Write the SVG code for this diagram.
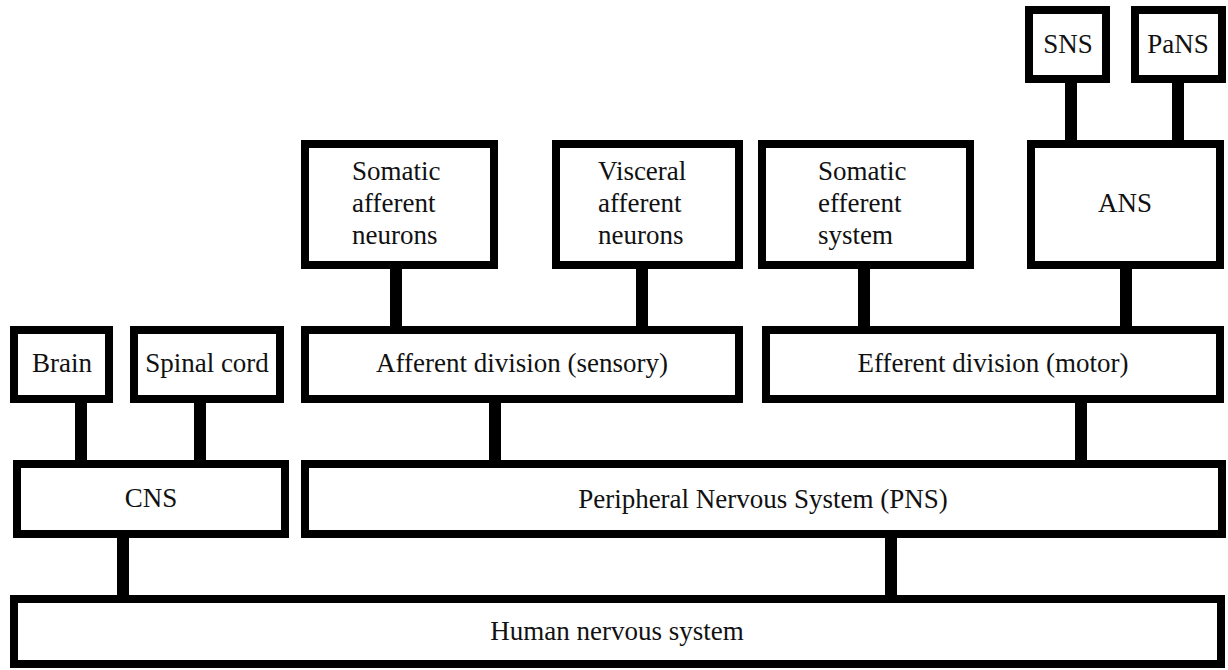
<svg xmlns="http://www.w3.org/2000/svg" width="1228" height="670" viewBox="0 0 1228 670">
<style>
.box{fill:#fff;stroke:#000;stroke-width:8}
.t{font-family:"Liberation Serif","Times New Roman",serif;font-size:27px;fill:#111}
.c{text-anchor:middle}
.link{stroke:#000;stroke-width:12;fill:none}
</style>
<rect width="1228" height="670" fill="#fff"/>
<g id="connectors">
<line class="link" x1="1071" y1="83" x2="1071" y2="140"/>
<line class="link" x1="1178" y1="83" x2="1178" y2="140"/>
<line class="link" x1="396" y1="269" x2="396" y2="326"/>
<line class="link" x1="642" y1="269" x2="642" y2="326"/>
<line class="link" x1="864" y1="269" x2="864" y2="326"/>
<line class="link" x1="1126" y1="269" x2="1126" y2="326"/>
<line class="link" x1="81" y1="403" x2="81" y2="460"/>
<line class="link" x1="200" y1="403" x2="200" y2="460"/>
<line class="link" x1="495" y1="403" x2="495" y2="460"/>
<line class="link" x1="1081" y1="403" x2="1081" y2="460"/>
<line class="link" x1="123" y1="538" x2="123" y2="595"/>
<line class="link" x1="891" y1="538" x2="891" y2="595"/>
</g>
<g id="sns"><rect class="box" x="1029" y="10" width="77" height="69"/><text class="t c" x="1068" y="53">SNS</text></g>
<g id="pans"><rect class="box" x="1135" y="10" width="87" height="69"/><text class="t c" x="1178" y="53">PaNS</text></g>
<g id="somatic-afferent"><rect class="box" x="305" y="144" width="189" height="121"/>
<text class="t" x="352" y="180">Somatic</text><text class="t" x="352" y="212">afferent</text><text class="t" x="352" y="244">neurons</text></g>
<g id="visceral-afferent"><rect class="box" x="556" y="144" width="183" height="121"/>
<text class="t" x="598" y="180">Visceral</text><text class="t" x="598" y="212">afferent</text><text class="t" x="598" y="244">neurons</text></g>
<g id="somatic-efferent"><rect class="box" x="762" y="144" width="208" height="121"/>
<text class="t" x="818" y="180">Somatic</text><text class="t" x="818" y="212">efferent</text><text class="t" x="818" y="244">system</text></g>
<g id="ans"><rect class="box" x="1031" y="144" width="189" height="121"/><text class="t c" x="1125" y="212">ANS</text></g>
<g id="brain"><rect class="box" x="14" y="330" width="95" height="69"/><text class="t c" x="62" y="372">Brain</text></g>
<g id="spinal-cord"><rect class="box" x="134" y="330" width="146" height="69"/><text class="t c" x="207" y="372">Spinal cord</text></g>
<g id="afferent-division"><rect class="box" x="305" y="330" width="434" height="69"/><text class="t c" x="522" y="372">Afferent division (sensory)</text></g>
<g id="efferent-division"><rect class="box" x="766" y="330" width="454" height="69"/><text class="t c" x="993" y="372">Efferent division (motor)</text></g>
<g id="cns"><rect class="box" x="17" y="464" width="268" height="70"/><text class="t c" x="151" y="507">CNS</text></g>
<g id="pns"><rect class="box" x="305" y="464" width="917" height="70"/><text class="t c" x="763" y="508">Peripheral Nervous System (PNS)</text></g>
<g id="human"><rect class="box" x="14" y="599" width="1207" height="65"/><text class="t c" x="617" y="640">Human nervous system</text></g>
</svg>
